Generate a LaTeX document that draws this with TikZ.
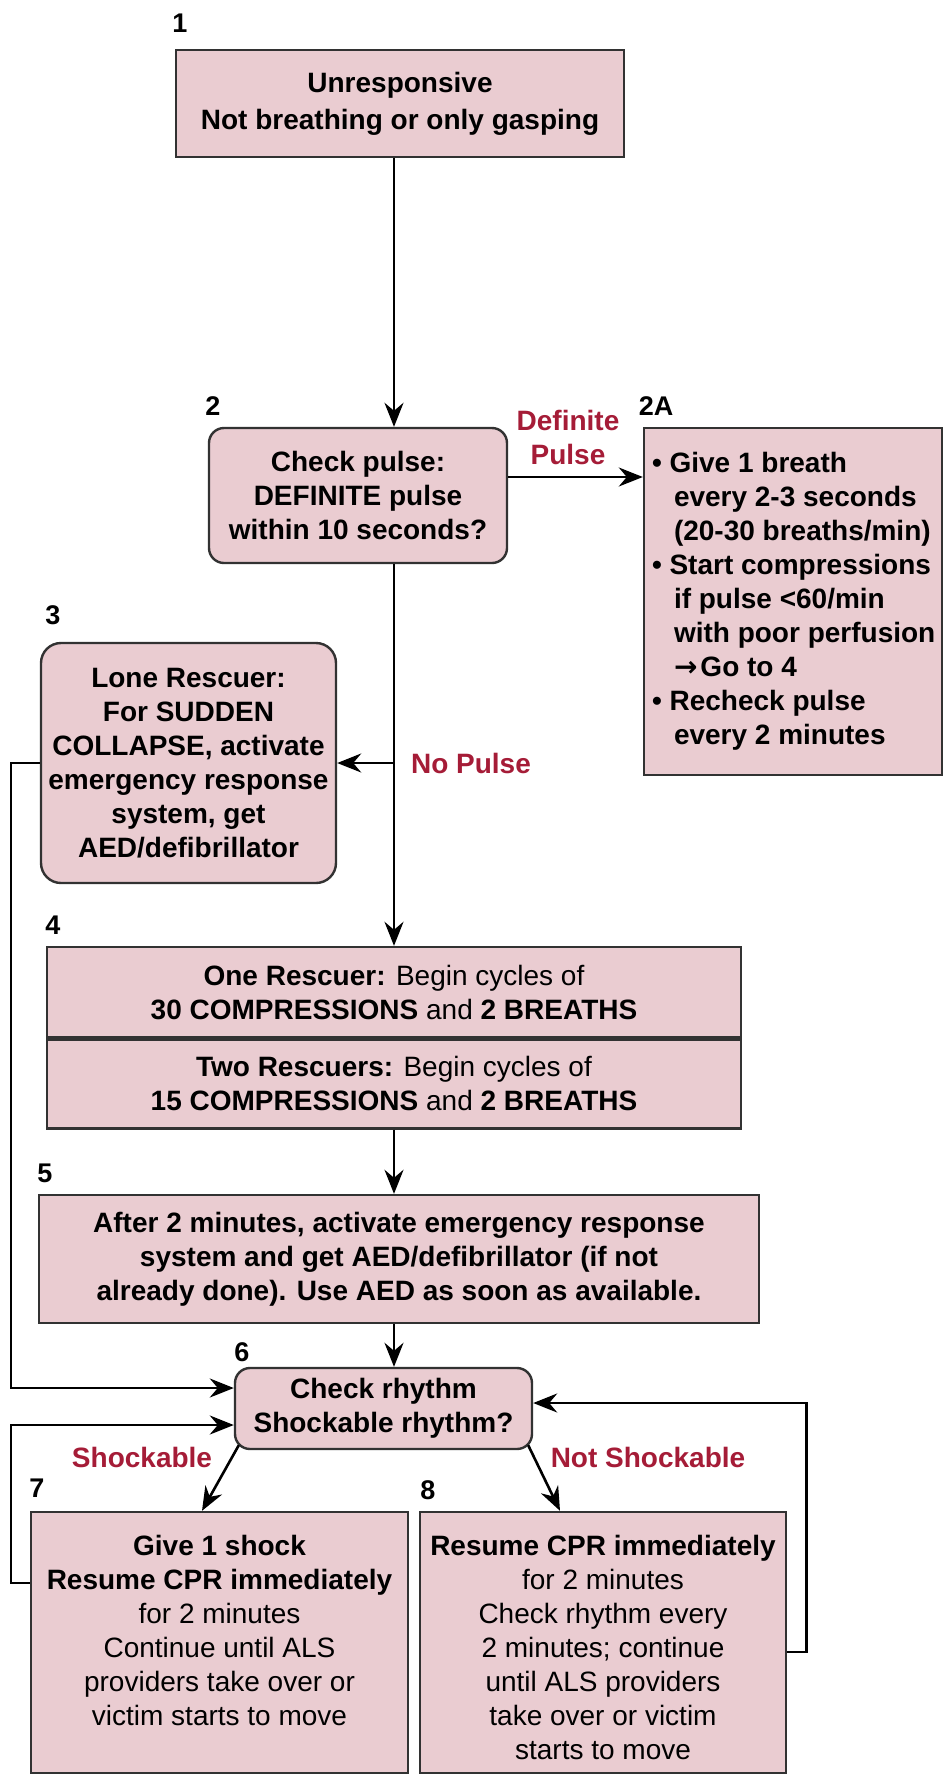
\documentclass[tikz,border=0pt]{standalone}
\usepackage{fontspec}
\setmainfont{Liberation Sans}
\newfontfamily\symfont{DejaVu Sans}
\usetikzlibrary{arrows.meta}
\usetikzlibrary{positioning}
\definecolor{boxpink}{RGB}{234,204,209}
\definecolor{tagred}{RGB}{165,28,55}
\definecolor{boxline}{RGB}{50,50,50}

\begin{document}
\begin{tikzpicture}[
	x=1pt, y=1pt,
  > = {Stealth[length=24pt,width=19pt,inset=8pt]},
  every node/.style = {font=\fontsize{28}{34}\selectfont\bfseries, align=center},
  box/.style = {draw=boxline, line width=2.4pt, fill=boxpink, inner sep=0pt},
  rbox/.style = {box, rounded corners=15pt},
  num/.style = {font=\fontsize{27}{30}\selectfont\bfseries},
  tag/.style = {text=tagred},
  flow/.style = {->, line width=2.6pt}
  ]
	\useasboundingbox (0,0) rectangle (948,-1775);

	\coordinate (@spine) at (394,0);

	\node[box, minimum width=448, minimum height=107] (b1) at (400,-103.5) {Unresponsive\\[3pt] Not breathing or only gasping};
	\node[rbox, minimum width=298, minimum height=135] (b2) at (358,-495.5) {Check pulse:\\ DEFINITE pulse\\ within 10 seconds?};
	\node[box, minimum width=298, minimum height=347] (b2a) at (793,-601.5) {};
	\node[align=left, inner sep=0pt, right=9pt of b2a.west] (b2at) {%
		\textbullet\ Give 1 breath\\
		\hspace*{22pt}every 2-3 seconds\\
		\hspace*{22pt}(20-30 breaths/min)\\
		\textbullet\ Start compressions\\
		\hspace*{22pt}if pulse <60/min\\
		\hspace*{22pt}with poor perfusion\\
		\hspace*{22pt}{\symfont\bfseries →}\kern3pt Go to 4\\
		\textbullet\ Recheck pulse\\
		\hspace*{22pt}every 2 minutes};
	\node[rbox, rounded corners=20pt, minimum width=295, minimum height=240] (b3) at (188.5,-763) {Lone Rescuer:\\ For SUDDEN\\ COLLAPSE, activate\\ emergency response\\ system, get\\ AED/defibrillator};
	\node[box, minimum width=694, minimum height=90] (b4u) at (394,-992) {One Rescuer: \textmd{Begin cycles of}\\ 30 COMPRESSIONS \textmd{and} 2 BREATHS};
	\node[box, minimum width=694, minimum height=89, below=0pt of b4u] (b4l) {Two Rescuers: \textmd{Begin cycles of}\\ 15 COMPRESSIONS \textmd{and} 2 BREATHS};
	\node[box, minimum width=720, minimum height=128] (b5) at (399,-1259) {After 2 minutes, activate emergency response\\ system and get AED/defibrillator (if not\\ already done). Use AED as soon as available.};
	\node[rbox, minimum width=297, minimum height=81] (b6) at (383.5,-1408.5) {Check rhythm\\ Shockable rhythm?};
	\node[box, minimum width=377, minimum height=261] (b7) at (219.5,-1642.5) {};
	\node[box, minimum width=366, minimum height=261] (b8) at (603,-1642.5) {};
	\node[inner sep=0pt, below=24.5pt of b7.north] (b7t) {Give 1 shock\\ Resume CPR immediately\\ \textmd{for 2 minutes}\\ \textmd{Continue until ALS}\\ \textmd{providers take over or}\\ \textmd{victim starts to move}};
	\node[inner sep=0pt, below=24.5pt of b8.north] (b8t) {Resume CPR immediately\\ \textmd{for 2 minutes}\\ \textmd{Check rhythm every}\\ \textmd{2 minutes; continue}\\ \textmd{until ALS providers}\\ \textmd{take over or victim}\\ \textmd{starts to move}};

	\node[num] (n1) at (180,-23) {1};
	\node[num] (n2) at (213,-406) {2};
	\node[num] (n2a) at (656,-406) {2A};
	\node[num] (n3) at (53,-615) {3};
	\node[num] (n4) at (53,-925) {4};
	\node[num] (n5) at (45,-1173) {5};
	\node[num] (n6) at (242,-1352) {6};
	\node[num] (n7) at (37,-1488) {7};
	\node[num] (n8) at (428,-1490) {8};

	\node[tag] (tdef) at (568,-437.5) {Definite\\ Pulse};
	\node[tag] (tno) at (471,-763) {No Pulse};
	\node[tag] (tsh) at (142,-1457) {Shockable};
	\node[tag] (tns) at (648,-1457) {Not Shockable};

	\draw[flow] (@spine |- b1.south) -- (@spine |- b2.north);
	\draw[flow] ([yshift=18.5pt]b2.east) -- ([yshift=18.5pt]b2.east -| b2a.west);
	\draw[flow] (@spine |- b2.south) -- (@spine |- b4u.north);
	\draw[flow] (@spine |- b3.east) -- (b3.east);
	\draw[flow] (b3.west) -- ++(-29,0) |- ([yshift=20.5pt]b6.west);
	\draw[flow] (@spine |- b4l.south) -- (@spine |- b5.north);
	\draw[flow] (@spine |- b5.south) -- (@spine |- b6.north);
	\draw[flow] ([shift={(5pt,5pt)}]b6.south west) -- ([xshift=-17.5pt]b7.north);
	\draw[flow] ([shift={(-5pt,5pt)}]b6.south east) -- ([xshift=-43pt]b8.north);
	\draw[flow] ([yshift=59.5pt]b7.west) -- ++(-19,0) |- ([yshift=-16.5pt]b6.west);
	\draw[flow] ([yshift=-9.5pt]b8.east) -- ++(19,0) |- ([yshift=5.5pt]b6.east);

\end{tikzpicture}
\end{document}
